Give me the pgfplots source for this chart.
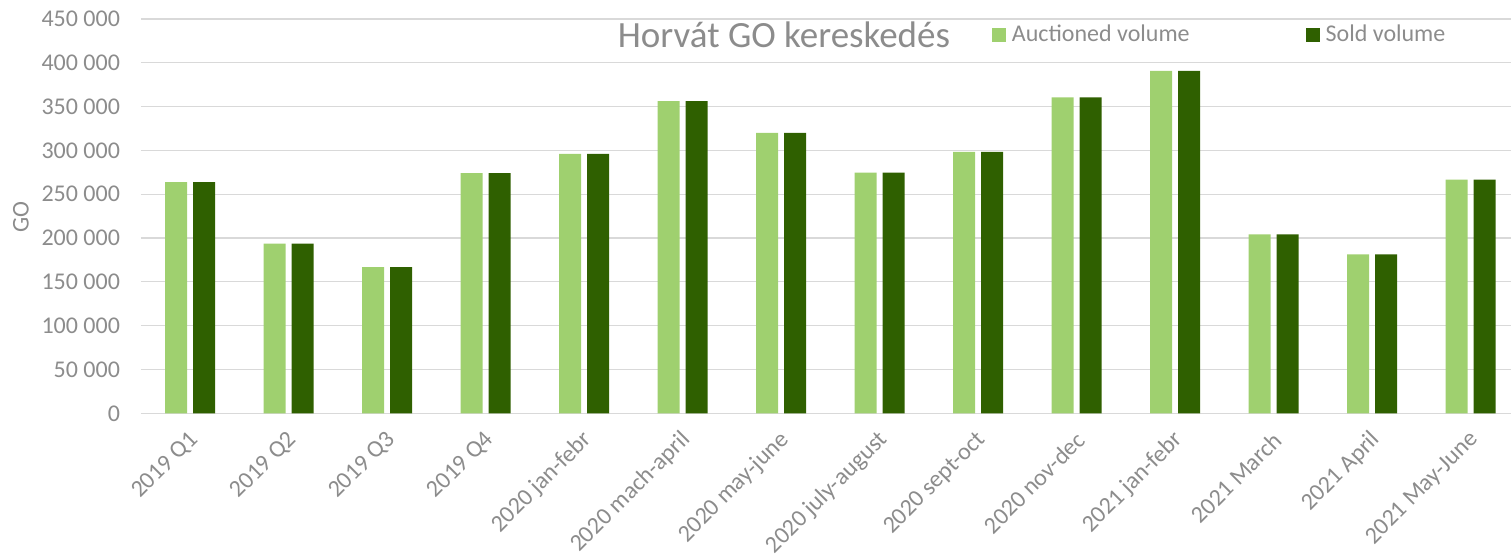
\documentclass[border=0pt]{standalone}
\usepackage{fontspec}
\setmainfont{Carlito}
\usepackage{pgfplots}
\pgfplotsset{compat=1.18}
\definecolor{lightg}{HTML}{9FD06F}
\definecolor{darkg}{HTML}{2F6000}
\definecolor{txt}{HTML}{8C8C8C}
\definecolor{gridc}{HTML}{D9D9D9}
\begin{document}
\begin{tikzpicture}
\begin{axis}[
  at={(0,0)}, anchor=south west,
  scale only axis, width=685pt, height=197.15pt,
  xmin=-0.5, xmax=13.409, ymin=0, ymax=450000,
  ybar=3pt, bar width=11pt,
  xtick={0,...,13},
  xticklabels={2019 Q1,2019 Q2,2019 Q3,2019 Q4,2020 jan-febr,2020 mach-april,2020 may-june,2020 july-august,2020 sept-oct,2020 nov-dec,2021 jan-febr,2021 March,2021 April,2021 May-June},
  ytick={0,50000,...,450000},
  yticklabels={0,50 000,100 000,150 000,200 000,250 000,300 000,350 000,400 000,450 000},
  scaled y ticks=false,
  ymajorgrids, major grid style={gridc, line width=0.6pt},
  axis line style={draw=none},
  major tick length=0pt,
  tick label style={font=\fontsize{12}{14}\selectfont, text=txt},
  yticklabel style={xshift=-7pt},
  xticklabel style={xshift=4.5pt, yshift=-9pt, rotate=45, anchor=east},
  ylabel={GO},
  ylabel style={font=\fontsize{12}{14}\selectfont, text=txt, at={(axis description cs:-0.0876,0.498)}, anchor=center},
  legend columns=2,
  legend style={draw=none, fill=none, inner sep=0pt, outer sep=0pt,
    at={(axis cs:8.139,431850)}, anchor=west,
    font=\fontsize{12}{14}\selectfont, text=txt,
    nodes={inner sep=0pt},
    /tikz/every odd column/.append style={column sep=3pt},
    /tikz/every even column/.append style={column sep=58pt}},
  legend image code/.code={\fill[#1] (0pt,-3.5pt) rectangle (7pt,3.5pt);},
]
\addplot[fill=lightg, draw=none] coordinates {
(0,263700) (1,193600) (2,166700) (3,274000) (4,296000) (5,356200) (6,320000)
(7,274700) (8,298300) (9,360700) (10,390800) (11,204300) (12,181500) (13,266700)};
\addlegendentry{Auctioned volume}
\addplot[fill=darkg, draw=none] coordinates {
(0,263700) (1,193600) (2,166700) (3,274000) (4,296000) (5,356200) (6,320000)
(7,274700) (8,298300) (9,360700) (10,390800) (11,204300) (12,181500) (13,266700)};
\addlegendentry{Sold volume}
\node[font=\fontsize{18.5}{22}\selectfont, text=txt, anchor=base] at (axis cs:6.027,417000) {Horvát GO kereskedés};
\end{axis}
\pgfresetboundingbox
\useasboundingbox (current axis.south west) ++(-70.5pt,-70.35pt) rectangle ++(755.5pt,277pt);
\end{tikzpicture}
\end{document}
